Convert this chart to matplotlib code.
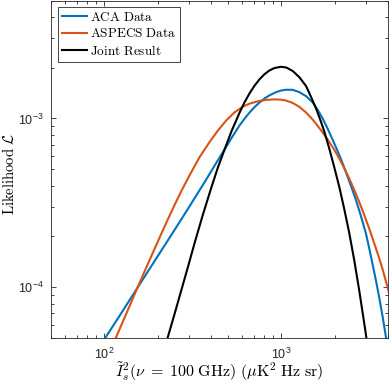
import numpy as np
import matplotlib
matplotlib.use("Agg")
import matplotlib.pyplot as plt
from matplotlib.ticker import LogLocator, NullFormatter

plt.rcParams['mathtext.fontset'] = 'cm'
plt.rcParams['font.family'] = ['Liberation Sans', 'DejaVu Sans']

# ACA Data
aca_x = [82.85, 100.6, 122.3, 155.0, 192.5, 240.1, 296.6, 368.3, 419.4, 477.4,
         522.7, 580.0, 618.8, 660.1, 704.5, 751.7, 802.0, 855.8, 933.6, 996.1,
         1062.8, 1158, 1263, 1378, 1501, 1602, 1709, 1823, 1945, 2054, 2170,
         2315, 2470, 2635, 2811, 3000, 3131, 3268, 3416, 3566, 3722, 3889, 4007]
aca_y = [3.60e-5, 4.95e-5, 6.80e-5, 1.004e-4, 1.432e-4, 2.054e-4, 2.912e-4,
         4.188e-4, 5.252e-4, 6.54e-4, 7.655e-4, 9.085e-4, 9.959e-4, 1.0828e-3,
         1.1659e-3, 1.2420e-3, 1.3118e-3, 1.3705e-3, 1.4319e-3, 1.4637e-3,
         1.4798e-3, 1.4778e-3, 1.4319e-3, 1.3555e-3, 1.2454e-3, 1.1265e-3,
         1.0e-3, 8.721e-4, 7.499e-4, 6.585e-4, 5.740e-4, 4.804e-4, 3.991e-4,
         3.296e-4, 2.646e-4, 2.088e-4, 1.707e-4, 1.380e-4, 1.101e-4, 8.72e-5,
         6.77e-5, 5.11e-5, 4.19e-5]

# ASPECS Data
aspecs_x = [104.6, 115.6, 125.5, 136.2, 150.4, 169.1, 187.6, 210.1, 228.0, 249.6,
            273.2, 303.2, 345.2, 393.0, 436.0, 488.0, 543.6, 605.3, 660.1, 735.4,
            820.0, 913.2, 996.1, 1062.8, 1158, 1263, 1378, 1501, 1637.5, 1786,
            1945, 2033, 2122, 2264, 2416, 2578, 2750, 2935, 3131, 3341, 3566,
            3755, 3971, 4059]
aspecs_y = [3.875e-5, 4.95e-5, 6.04e-5, 7.37e-5, 9.39e-5, 1.245e-4, 1.594e-4,
            2.079e-4, 2.512e-4, 3.078e-4, 3.738e-4, 4.610e-4, 5.900e-4, 7.247e-4,
            8.423e-4, 9.730e-4, 1.0857e-3, 1.1739e-3, 1.2232e-3, 1.2641e-3,
            1.2886e-3, 1.2975e-3, 1.2922e-3, 1.2762e-3, 1.2365e-3, 1.1707e-3,
            1.0857e-3, 9.864e-4, 8.781e-4, 7.760e-4, 6.767e-4, 6.273e-4,
            5.795e-4, 5.075e-4, 4.406e-4, 3.779e-4, 3.206e-4, 2.683e-4,
            2.230e-4, 1.827e-4, 1.488e-4, 1.245e-4, 1.004e-4, 9.21e-5]

# Joint Result
joint_x = [205.5, 227.0, 249.6, 272.2, 295.4, 323.5, 358.9, 401.8, 436.0, 477.4,
           522.7, 580.0, 618.8, 660.1, 704.5, 751.7, 802.0, 855.8, 913.2, 996.1,
           1067, 1158, 1263, 1378, 1470, 1569, 1659, 1747, 1864, 1989, 2122,
           2264, 2416, 2578, 2750, 2973, 3051]
joint_y = [3.4e-5, 4.95e-5, 6.97e-5, 9.60e-5, 1.297e-4, 1.827e-4, 2.653e-4,
           3.883e-4, 5.052e-4, 6.54e-4, 8.40e-4, 1.080e-3, 1.244e-3, 1.406e-3,
           1.561e-3, 1.704e-3, 1.827e-3, 1.925e-3, 1.989e-3, 2.025e-3, 2.003e-3,
           1.912e-3, 1.756e-3, 1.557e-3, 1.343e-3, 1.147e-3, 9.80e-4, 8.37e-4,
           6.63e-4, 5.14e-4, 3.94e-4, 2.91e-4, 2.10e-4, 1.448e-4, 9.60e-5,
           5.62e-5, 4.64e-5]

fig = plt.figure(figsize=(3.9, 3.84), dpi=100)
ax = fig.add_axes([51/390, 46/384, 337/390, 337.5/384])

ax.plot(aca_x, aca_y, color='#0072BD', lw=1.5, label=r'$\mathrm{ACA\ Data}$')
ax.plot(aspecs_x, aspecs_y, color='#D95319', lw=1.5, label=r'$\mathrm{ASPECS\ Data}$')
ax.plot(joint_x, joint_y, color='k', lw=1.5, label=r'$\mathrm{Joint\ Result}$')

ax.set_xscale('log')
ax.set_yscale('log')
ax.set_xlim(50, 4000)
ax.set_ylim(5e-5, 5e-3)

ax.xaxis.set_minor_locator(LogLocator(base=10, subs=np.arange(2, 10)))
ax.yaxis.set_minor_locator(LogLocator(base=10, subs=np.arange(2, 10)))
ax.xaxis.set_minor_formatter(NullFormatter())
ax.yaxis.set_minor_formatter(NullFormatter())

grey = '#262626'
for s in ax.spines.values():
    s.set_color(grey)
    s.set_linewidth(0.6)
ax.tick_params(which='both', direction='in', top=True, right=True,
               color=grey, labelcolor=grey, width=0.6)
ax.tick_params(which='major', length=3.5, labelsize=9)
ax.tick_params(axis='x', which='major', pad=6)
ax.tick_params(axis='y', which='major', pad=5)
ax.tick_params(which='minor', length=2)

ax.set_xlabel(r'$\tilde{I}_s^2(\nu\;=\;100\ \mathrm{GHz})\ (\mu\mathrm{K}^2\ \mathrm{Hz\ sr})$',
              fontsize=11.5, labelpad=-1)
ax.set_ylabel(r'$\mathrm{Likelihood}\ \mathcal{L}$', fontsize=10.5)
ax.yaxis.set_label_coords(-0.102, 0.485)

leg = ax.legend(loc='upper left', fontsize=9.5, fancybox=False, framealpha=1,
                edgecolor=grey, handlelength=1.9, handletextpad=0.25,
                borderpad=0.3, labelspacing=0.25, borderaxespad=0.5)
leg.get_frame().set_linewidth(0.6)

fig.savefig('out.png', dpi=100)
